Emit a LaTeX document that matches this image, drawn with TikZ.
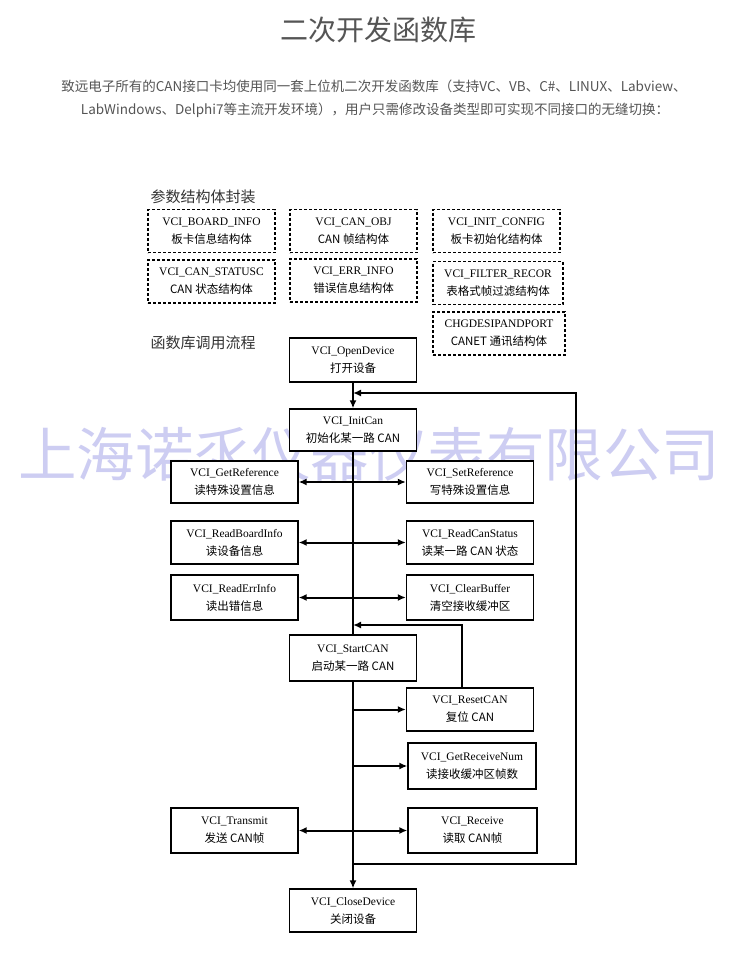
\documentclass[tikz,border=0pt]{standalone}
\usepackage{fontspec}
\setmainfont{Liberation Serif}
\newfontfamily\cjk{Noto Sans CJK SC}
\usetikzlibrary{arrows.meta}
\definecolor{txtgray}{HTML}{555555}
\definecolor{headgray}{HTML}{333333}
\definecolor{wmark}{RGB}{205,205,242}

\begin{document}
\begin{tikzpicture}[x=1pt,y=-1pt,
  fbox/.style={draw,line width=1.3pt,fill=white,align=center,inner sep=0pt,
    minimum width=127pt,minimum height=44pt,font=\fontsize{11.5}{18}\selectfont},
  sbox/.style={fbox,dash pattern=on 3pt off 2pt},
  arr/.style={line width=2pt,-{Latex[length=8pt,width=7pt]}},
  dblarr/.style={line width=2pt,{Latex[length=8pt,width=7pt]}-{Latex[length=8pt,width=7pt]}},
  mainline/.style={line width=1.5pt}]
 \fill[white] (0,0) rectangle (750,974);
 \useasboundingbox (0,0) rectangle (750,974);

 % title and intro text
 \node[font=\cjk\fontsize{28}{30}\selectfont,text=txtgray] (title) at (378,30) {二次开发函数库};
 \node[font=\cjk\fontsize{13.5}{16}\selectfont,text=txtgray] (intro1) at (374,86)
  {致远电子所有的CAN接口卡均使用同一套上位机二次开发函数库（支持VC、VB、C\#、LINUX、Labview、};
 \node[font=\cjk\fontsize{13.5}{16}\selectfont,text=txtgray] (intro2) at (375,110)
  {LabWindows、Delphi7等主流开发环境），用户只需修改设备类型即可实现不同接口的无缝切换：};

 % watermark behind the chart
 \node[font=\cjk\fontsize{58.5}{60}\selectfont,text=wmark] (wm) at (369,454) {上海诺乑仪器仪表有限公司};

 % structures
 \node[font=\cjk\fontsize{15}{16}\selectfont,text=headgray,anchor=west] (shead) at (147,197) {参数结构体封装};
 \foreach \x\y\w\nm\lna\lnb in {211.5/231/127/s1/VCI\_BOARD\_INFO/板卡信息结构体,
   353.5/231/127/s2/VCI\_CAN\_OBJ/CAN 帧结构体,
   496.5/231/127/s3/VCI\_INIT\_CONFIG/板卡初始化结构体,
   211.5/281.5/127/s4/VCI\_CAN\_STATUSC/CAN 状态结构体,
   353.5/280.5/127/s5/VCI\_ERR\_INFO/错误信息结构体,
   498/283/130/s6/VCI\_FILTER\_RECOR/表格式帧过滤结构体,
   499/333.5/132/s7/CHGDESIPANDPORT/CANET 通讯结构体} {
  \node[sbox,minimum width=\w pt,minimum height=43pt] (\nm) at (\x,\y) {\lna\\{\cjk\lnb}};
 }

 % call flow
 \node[font=\cjk\fontsize{15}{16}\selectfont,text=headgray,anchor=west] (fhead) at (147,343) {函数库调用流程};
 \node[fbox] (open) at (353,360) {VCI\_OpenDevice\\{\cjk 打开设备}};
 \node[fbox,minimum height=42pt] (init) at (353,430) {VCI\_InitCan\\{\cjk 初始化某一路 CAN}};
 \node[fbox,minimum height=42pt] (getref) at (234.5,482) {VCI\_GetReference\\{\cjk 读特殊设置信息}};
 \node[fbox,minimum height=42pt] (setref) at (470,482) {VCI\_SetReference\\{\cjk 写特殊设置信息}};
 \node[fbox,minimum height=43pt] (rdboard) at (234.5,542.5) {VCI\_ReadBoardInfo\\{\cjk 读设备信息}};
 \node[fbox,minimum height=43pt] (rdstatus) at (470,542.5) {VCI\_ReadCanStatus\\{\cjk 读某一路 CAN 状态}};
 \node[fbox,minimum height=45pt] (rderr) at (234.5,597.5) {VCI\_ReadErrInfo\\{\cjk 读出错信息}};
 \node[fbox,minimum height=45pt] (clrbuf) at (470,597.5) {VCI\_ClearBuffer\\{\cjk 清空接收缓冲区}};
 \node[fbox,minimum height=46pt] (start) at (353,658) {VCI\_StartCAN\\{\cjk 启动某一路 CAN}};
 \node[fbox,minimum height=43pt] (reset) at (470,709.5) {VCI\_ResetCAN\\{\cjk 复位 CAN}};
 \node[fbox,minimum width=128pt,minimum height=46pt] (rcvnum) at (472,766) {VCI\_GetReceiveNum\\{\cjk 读接收缓冲区帧数}};
 \node[fbox,minimum height=45pt] (transmit) at (234.5,830.5) {VCI\_Transmit\\{\cjk 发送 CAN帧}};
 \node[fbox,minimum width=129pt,minimum height=45pt] (receive) at (472.5,830.5) {VCI\_Receive\\{\cjk 读取 CAN帧}};
 \node[fbox,minimum height=43pt] (close) at (353,910.5) {VCI\_CloseDevice\\{\cjk 关闭设备}};

 % main line
 \draw[arr] (open) -- (init);
 \draw[mainline] (init) -- (start);
 \draw[arr] (start) -- (close);

 % side calls
 \draw[dblarr] (getref) -- (setref);
 \draw[dblarr] (rdboard) -- (rdstatus);
 \draw[dblarr] (rderr) -- (clrbuf);
 \draw[dblarr] (transmit) -- (receive);
 \draw[arr] (start.south |- reset.west) -- (reset.west);
 \draw[arr] (start.south |- rcvnum.west) -- (rcvnum.west);

 % loops back
 \coordinate (fback) at (462,625);
 \draw[arr] (fback |- reset.north) -- (fback) -- (init.south |- fback);
 \coordinate (loopbot) at (576,864);
 \coordinate (looptop) at (576,393);
 \draw[arr] (start.south |- loopbot) -- (loopbot) -- (looptop) -- (open.south |- looptop);
\end{tikzpicture}
\end{document}
